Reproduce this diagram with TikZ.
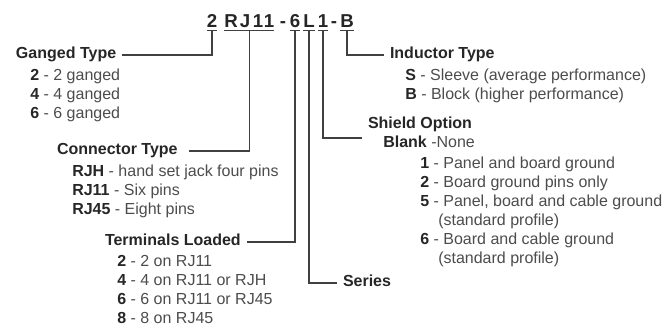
\documentclass[tikz,border=0pt]{standalone}
\usepackage{fontspec}
\setmainfont{Liberation Sans}
\usetikzlibrary{calc}

\newcommand{\optkey}[1]{\textcolor{black!85}{\textbf{#1}}}

\tikzset{
  code/.style={font=\fontsize{14}{14}\selectfont\bfseries, text=black!85, anchor=base, inner xsep=0pt, inner ysep=2.25pt},
  title/.style={font=\fontsize{12}{14.25}\selectfont\bfseries, text=black!85, anchor=mid west, inner sep=0pt, outer xsep=4.5pt},
  items/.style={align=left, anchor=north west, inner sep=0pt, text=black!70},
  lead/.style={draw=black!75, line width=0.9pt},
}

\begin{document}
\begin{tikzpicture}[x=0.75pt, y=-0.75pt, font=\fontsize{12}{14.25}\selectfont]
        \useasboundingbox (0,0) rectangle (667,326);

        % part number
        \node[code] (c2) at (212,27) {2};
        \node[code] (cR) at (231,27) {R};
        \node[code] (cJ) at (245,27) {J};
        \node[code] (c1a) at (258,27) {1};
        \node[code] (c1b) at (269,27) {1};
        \node[code] (cda) at (283,27) {-};
        \node[code] (c6) at (295,27) {6};
        \node[code] (cL) at (309,27) {L};
        \node[code] (c1c) at (323,27) {1};
        \node[code] (cdb) at (334,27) {-};
        \node[code] (cB) at (347,27) {B};

        \draw[lead] (c2.south west) -- (c2.south east);
        \draw[lead] (cR.south west) -- (c1b.south east);
        \draw[lead] (c6.south west) -- (c6.south east);
        \draw[lead] (cL.south west) -- (cL.south east);
        \draw[lead] (c1c.south west) -- (c1c.south east);
        \draw[lead] (cB.south west) -- (cB.south east);
        \coordinate (uRJ) at ($(cR.south west)!0.5!(c1b.south east)$);

        % left side
        \node[title] (ganged) at (10,55) {Ganged Type};
        \node[items] (gangedlist) at (30,68.5) {\optkey{2} - 2 ganged\\ \optkey{4} - 4 ganged\\ \optkey{6} - 6 ganged};

        \node[title, outer xsep=8.25pt] (conn) at (46,151) {Connector Type};
        \node[items] (connlist) at (72,164.5) {\optkey{RJH} - hand set jack four pins\\ \optkey{RJ11} - Six pins\\ \optkey{RJ45} - Eight pins};

        \node[title] (term) at (99,242) {Terminals Loaded};
        \node[items] (termlist) at (117,255.5) {\optkey{2} - 2 on RJ11\\ \optkey{4} - 4 on RJ11 or RJH\\ \optkey{6} - 6 on RJ11 or RJ45\\ \optkey{8} - 8 on RJ45};

        % right side
        \node[title] (series) at (337,283) {Series};

        \node[title] (shield) at (362,125) {Shield Option};
        \node[items, anchor=mid west] (blank) at (383,144) {\optkey{Blank} -None};
        \node[items] (shieldlist) at (420,156.5) {\optkey{1} - Panel and board ground\\ \optkey{2} - Board ground pins only\\ \optkey{5} - Panel, board and cable ground\\ \hspace*{13.5pt}(standard profile)\\ \optkey{6} - Board and cable ground\\ \hspace*{13.5pt}(standard profile)};
        \coordinate (shieldend) at (362,138);

        \node[title] (induct) at (384,55) {Inductor Type};
        \node[items] (inductlist) at (405,68.5) {\optkey{S} - Sleeve (average performance)\\ \optkey{B} - Block (higher performance)};

        % leaders
        \draw[lead] (c2.south) |- (ganged.mid east);
        \draw[lead] (uRJ) |- (conn.mid east);
        \draw[lead] (c6.south) |- (term.mid east);
        \draw[lead] (cL.south) |- (series.mid west);
        \draw[lead] (c1c.south) |- (shieldend);
        \draw[lead] (cB.south) |- (induct.mid west);
\end{tikzpicture}
\end{document}
